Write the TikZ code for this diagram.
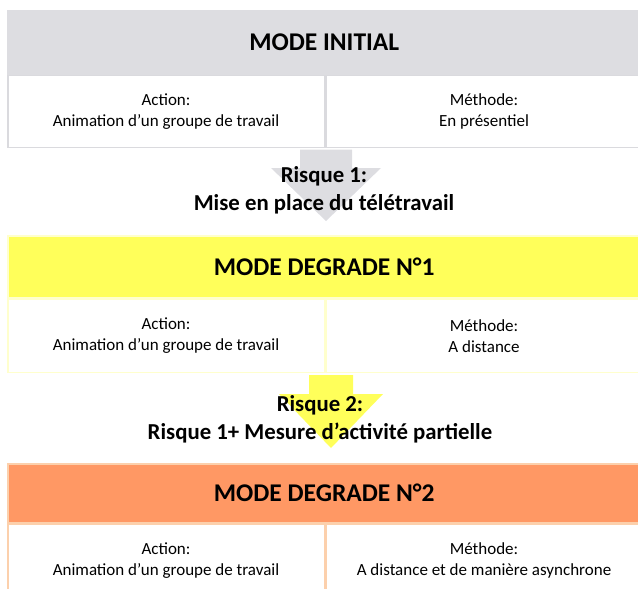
\documentclass[tikz,border=0pt]{standalone}
\usepackage{fontspec}
\setmainfont{Carlito}
\usetikzlibrary{calc}
\definecolor{inigray}{RGB}{221,221,225}
\definecolor{iniline}{RGB}{218,218,222}
\definecolor{dg1fill}{RGB}{255,255,90}
\definecolor{dg1line}{RGB}{255,255,205}
\definecolor{dg2fill}{RGB}{255,152,100}
\definecolor{dg2line}{RGB}{252,208,172}

\begin{document}
\begin{tikzpicture}[
x=1pt, y=-1pt,
band/.style={rectangle, anchor=north west, inner sep=0pt, minimum width=633pt, line width=1.5pt, font=\fontsize{25.5}{30}\selectfont\bfseries},
cell/.style={rectangle, anchor=north west, inner sep=0pt, minimum width=316.5pt, line width=1.5pt, fill=white, align=center, font=\fontsize{17}{21}\selectfont},
risk/.style={align=center, font=\fontsize{22.8}{28}\selectfont\bfseries}
]
\useasboundingbox (0,0) rectangle (638,589);

% mode initial
\node[band, fill=inigray, draw=inigray, minimum height=63pt] (ini) at (7,10) {MODE INITIAL};
\node[cell, draw=iniline, minimum height=72pt] (iniact) at (ini.south west) {Action:\\Animation d’un groupe de travail};
\node[cell, draw=iniline, minimum height=72pt] (inimeth) at (iniact.north east) {Méthode:\\En présentiel};

% mode degrade 1
\node[band, fill=dg1fill, draw=dg1line, minimum height=62pt] (dg1) at (7,235) {MODE DEGRADE N°1};
\node[cell, draw=dg1line, minimum height=73pt] (dg1act) at (dg1.south west) {Action:\\Animation d’un groupe de travail};
\node[cell, draw=dg1line, minimum height=73pt] (dg1meth) at (dg1act.north east) {Méthode:\\A distance};

% mode degrade 2
\node[band, fill=dg2fill, draw=dg2line, minimum height=59pt] (dg2) at (7,463) {MODE DEGRADE N°2};
\node[cell, draw=dg2line, minimum height=73pt] (dg2act) at (dg2.south west) {Action:\\Animation d’un groupe de travail};
\node[cell, draw=dg2line, minimum height=73pt] (dg2meth) at (dg2act.north east) {Méthode:\\A distance et de manière asynchrone};

% arrows
\fill[inigray] ($(iniact.south east)+(-25,1.5)$) -- ++(52,0) -- ++(0,18.5) -- ++(29,0) -- ++(-55,53) -- ++(-55,-53) -- ++(29,0) -- cycle;
\fill[dg1fill] ($(dg1act.south east)+(-16,2)$) -- ++(44,0) -- ++(0,19) -- ++(30,0) -- ++(-52,54) -- ++(-52,-54) -- ++(30,0) -- cycle;

% risques
\node[risk] (r1) at (324,190) {Risque 1:\\Mise en place du télétravail};
\node[risk] (r2) at (320,419) {Risque 2:\\Risque 1+ Mesure d’activité partielle};

\end{tikzpicture}
\end{document}
